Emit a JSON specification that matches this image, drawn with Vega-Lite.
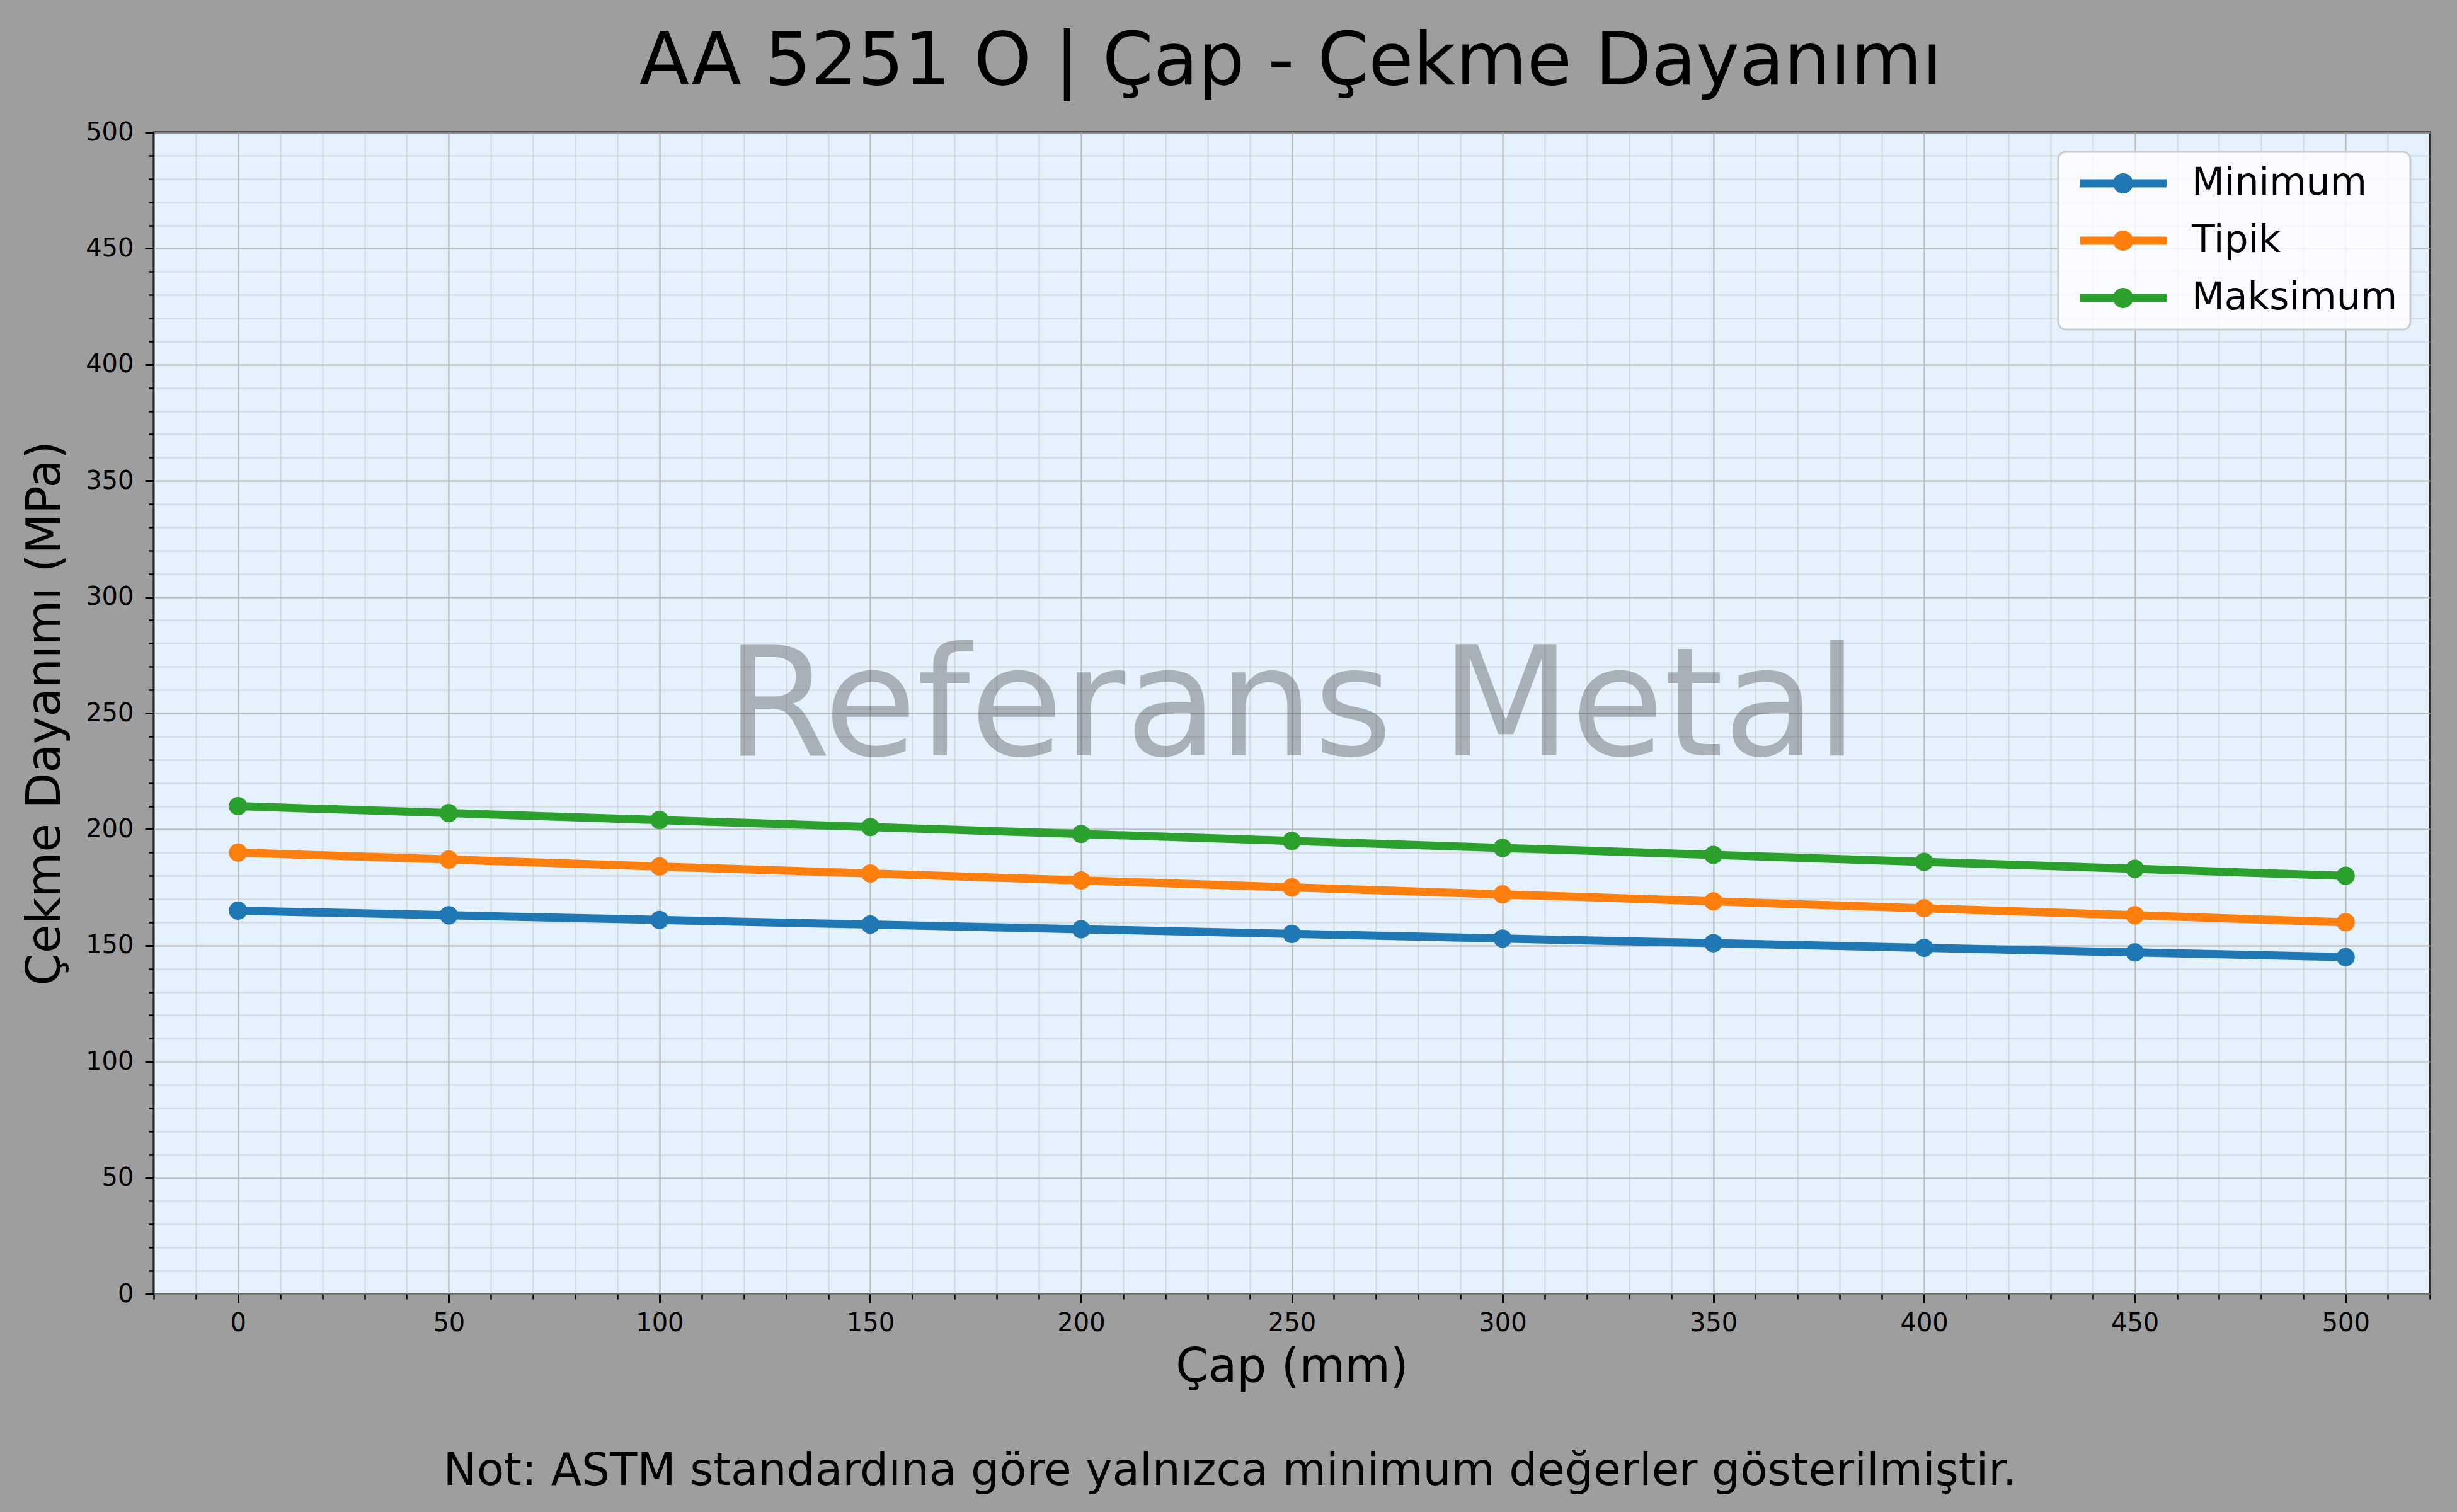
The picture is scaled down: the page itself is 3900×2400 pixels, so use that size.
{
  "$schema": "https://vega.github.io/schema/vega-lite/v6.json",
  "background": "#9e9e9e",
  "padding": {"left": 34, "top": 40, "right": 44, "bottom": 30},
  "title": {
    "text": "AA 5251 O | Çap - Çekme Dayanımı",
    "font": "DejaVu Sans",
    "fontSize": 116,
    "fontWeight": "normal",
    "color": "black",
    "anchor": "middle",
    "baseline": "alphabetic",
    "dx": 102,
    "offset": -61
  },
  "config": {
    "font": "DejaVu Sans",
    "view": {"fill": "#e5f1fd", "stroke": "black", "strokeWidth": 3}
  },
  "vconcat": [
    {
      "width": 3613,
      "height": 1844,
      "title": {
        "text": "Not: ASTM standardına göre yalnızca minimum değerler gösterilmiştir.",
        "orient": "bottom",
        "font": "DejaVu Sans",
        "fontSize": 71,
        "fontWeight": "normal",
        "color": "black",
        "anchor": "middle",
        "frame": "group",
        "dx": -98,
        "baseline": "alphabetic",
        "offset": 150
      },
      "data": {
        "values": [
          {"cap": 0, "seri": "Minimum", "deger": 165},
          {"cap": 50, "seri": "Minimum", "deger": 163},
          {"cap": 100, "seri": "Minimum", "deger": 161},
          {"cap": 150, "seri": "Minimum", "deger": 159},
          {"cap": 200, "seri": "Minimum", "deger": 157},
          {"cap": 250, "seri": "Minimum", "deger": 155},
          {"cap": 300, "seri": "Minimum", "deger": 153},
          {"cap": 350, "seri": "Minimum", "deger": 151},
          {"cap": 400, "seri": "Minimum", "deger": 149},
          {"cap": 450, "seri": "Minimum", "deger": 147},
          {"cap": 500, "seri": "Minimum", "deger": 145},
          {"cap": 0, "seri": "Tipik", "deger": 190},
          {"cap": 50, "seri": "Tipik", "deger": 187},
          {"cap": 100, "seri": "Tipik", "deger": 184},
          {"cap": 150, "seri": "Tipik", "deger": 181},
          {"cap": 200, "seri": "Tipik", "deger": 178},
          {"cap": 250, "seri": "Tipik", "deger": 175},
          {"cap": 300, "seri": "Tipik", "deger": 172},
          {"cap": 350, "seri": "Tipik", "deger": 169},
          {"cap": 400, "seri": "Tipik", "deger": 166},
          {"cap": 450, "seri": "Tipik", "deger": 163},
          {"cap": 500, "seri": "Tipik", "deger": 160},
          {"cap": 0, "seri": "Maksimum", "deger": 210},
          {"cap": 50, "seri": "Maksimum", "deger": 207},
          {"cap": 100, "seri": "Maksimum", "deger": 204},
          {"cap": 150, "seri": "Maksimum", "deger": 201},
          {"cap": 200, "seri": "Maksimum", "deger": 198},
          {"cap": 250, "seri": "Maksimum", "deger": 195},
          {"cap": 300, "seri": "Maksimum", "deger": 192},
          {"cap": 350, "seri": "Maksimum", "deger": 189},
          {"cap": 400, "seri": "Maksimum", "deger": 186},
          {"cap": 450, "seri": "Maksimum", "deger": 183},
          {"cap": 500, "seri": "Maksimum", "deger": 180}
        ]
      },
      "resolve": {"axis": {"x": "independent", "y": "independent"}},
      "layer": [
        {
          "data": {"values": [{"etiket": "Referans Metal", "x": 250, "y": 250}]},
          "mark": {
            "type": "text",
            "font": "DejaVu Sans",
            "fontSize": 240,
            "color": "#303030",
            "opacity": 0.33,
            "align": "center",
            "baseline": "alphabetic",
            "dy": 67
          },
          "encoding": {
            "x": {
              "field": "x",
              "type": "quantitative",
              "scale": {"domain": [-20, 520], "nice": false, "zero": false},
              "axis": {
                "orient": "bottom",
                "values": [-20, -10, 0, 10, 20, 30, 40, 50, 60, 70, 80, 90, 100, 110, 120, 130, 140, 150, 160, 170, 180, 190, 200, 210, 220, 230, 240, 250, 260, 270, 280, 290, 300, 310, 320, 330, 340, 350, 360, 370, 380, 390, 400, 410, 420, 430, 440, 450, 460, 470, 480, 490, 500, 510, 520],
                "labels": false,
                "title": null,
                "domain": false,
                "grid": true,
                "gridColor": "#b0b0b0",
                "gridOpacity": 0.3,
                "gridWidth": 2.5,
                "tickSize": 8,
                "tickWidth": 2.5,
                "tickColor": "black"
              }
            },
            "y": {
              "field": "y",
              "type": "quantitative",
              "scale": {"domain": [0, 500], "nice": false},
              "axis": {
                "orient": "left",
                "values": [0, 10, 20, 30, 40, 50, 60, 70, 80, 90, 100, 110, 120, 130, 140, 150, 160, 170, 180, 190, 200, 210, 220, 230, 240, 250, 260, 270, 280, 290, 300, 310, 320, 330, 340, 350, 360, 370, 380, 390, 400, 410, 420, 430, 440, 450, 460, 470, 480, 490, 500],
                "labels": false,
                "title": null,
                "domain": false,
                "grid": true,
                "gridColor": "#b0b0b0",
                "gridOpacity": 0.3,
                "gridWidth": 2.5,
                "tickSize": 8,
                "tickWidth": 2.5,
                "tickColor": "black"
              }
            },
            "text": {"field": "etiket"}
          }
        },
        {
          "mark": {
            "type": "line",
            "strokeWidth": 13,
            "point": {"filled": true, "size": 850, "opacity": 1}
          },
          "encoding": {
            "x": {
              "field": "cap",
              "type": "quantitative",
              "scale": {"domain": [-20, 520], "nice": false, "zero": false},
              "axis": {
                "orient": "bottom",
                "values": [0, 50, 100, 150, 200, 250, 300, 350, 400, 450, 500],
                "title": "Çap (mm)",
                "titleFont": "DejaVu Sans",
                "titleFontSize": 74,
                "titleFontWeight": "normal",
                "titleColor": "black",
                "titlePadding": 14,
                "labelFont": "DejaVu Sans",
                "labelFontSize": 40,
                "labelColor": "black",
                "labelPadding": 12,
                "labelFlush": false,
                "domain": false,
                "grid": true,
                "gridColor": "#b0b0b0",
                "gridOpacity": 0.6,
                "gridWidth": 2.5,
                "tickSize": 14,
                "tickWidth": 3,
                "tickColor": "black"
              }
            },
            "y": {
              "field": "deger",
              "type": "quantitative",
              "scale": {"domain": [0, 500], "nice": false},
              "axis": {
                "orient": "left",
                "values": [0, 50, 100, 150, 200, 250, 300, 350, 400, 450, 500],
                "title": "Çekme Dayanımı (MPa)",
                "titleFont": "DejaVu Sans",
                "titleFontSize": 74,
                "titleFontWeight": "normal",
                "titleColor": "black",
                "titlePadding": 25,
                "labelFont": "DejaVu Sans",
                "labelFontSize": 40,
                "labelColor": "black",
                "labelPadding": 18,
                "labelFlush": false,
                "domain": false,
                "grid": true,
                "gridColor": "#b0b0b0",
                "gridOpacity": 0.6,
                "gridWidth": 2.5,
                "tickSize": 14,
                "tickWidth": 3,
                "tickColor": "black"
              }
            },
            "color": {
              "field": "seri",
              "type": "nominal",
              "sort": ["Minimum", "Tipik", "Maksimum"],
              "scale": {
                "domain": ["Minimum", "Tipik", "Maksimum"],
                "range": ["#1f77b4", "#ff7f0e", "#2ca02c"]
              },
              "legend": {
                "title": null,
                "orient": "top-right",
                "offset": 31,
                "padding": 20,
                "symbolType": "M-1,-0.41H2.38V0.41H-1Z M4.24,-0.41H7.62V0.41H4.24Z M2.31,0A1,1 0 1,1 4.31,0A1,1 0 1,1 2.31,0Z",
                "symbolSize": 1024,
                "symbolStrokeWidth": 0,
                "symbolOpacity": 1,
                "labelFont": "DejaVu Sans",
                "labelFontSize": 60,
                "labelColor": "black",
                "labelOffset": 132,
                "labelLimit": 0,
                "rowPadding": 31,
                "fillColor": "rgba(255,255,255,0.8)",
                "strokeColor": "#cccccc",
                "cornerRadius": 12,
                "encode": {
                  "legend": {
                    "update": {"strokeWidth": {"value": 3}}
                  },
                  "symbols": {
                    "update": {"fill": {"scale": "color", "field": "value"}}
                  }
                }
              }
            }
          }
        }
      ]
    }
  ]
}
